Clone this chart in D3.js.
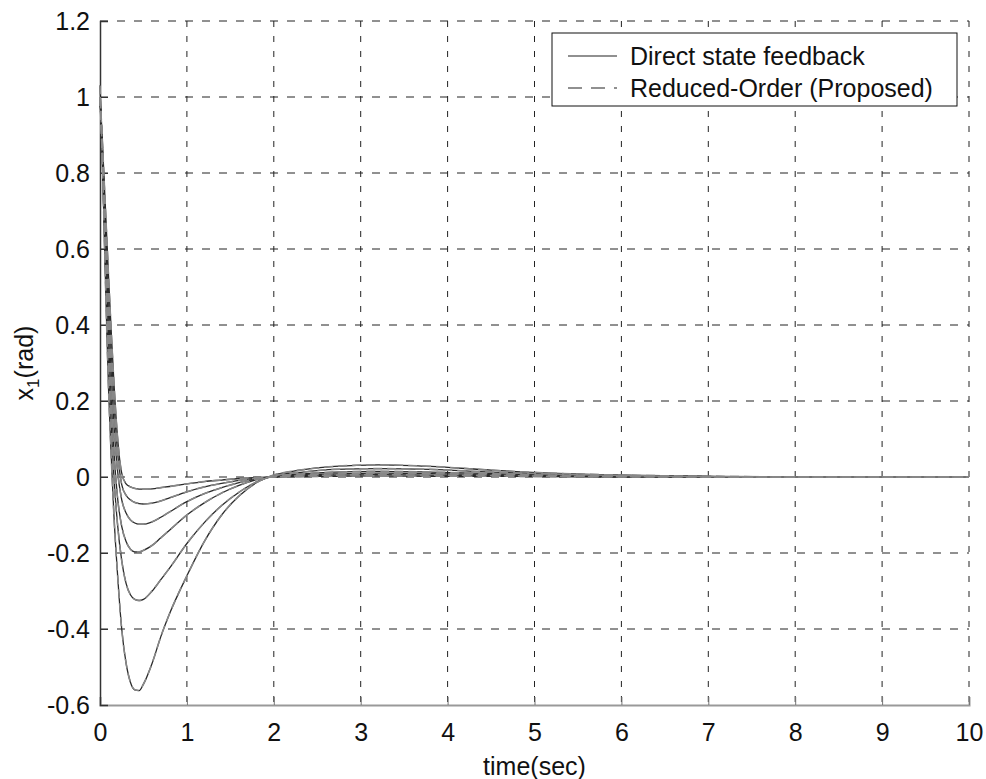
<!DOCTYPE html>
<html>
<head>
<meta charset="utf-8">
<script src="https://cdn.jsdelivr.net/npm/d3@7"></script>
<style>
  body { margin: 0; background: #fff; }
  svg text { font-family: "Liberation Sans", Arial, sans-serif; fill: #111; }
</style>
</head>
<body>
<div id="chart"></div>
<script>
// sample times (sec)
const times = [0, 0.02, 0.04, 0.06, 0.08, 0.1, 0.13, 0.16, 0.2, 0.25, 0.3, 0.35, 0.4, 0.45, 0.5,
  0.6, 0.7, 0.8, 1.0, 1.2, 1.4, 1.6, 1.8, 2.0, 2.3, 2.7, 3.2, 3.8, 4.5, 5.2, 6, 7, 8, 10];

// x1 responses, one per case
const caseA = [1.0, 0.92, 0.82, 0.72, 0.62, 0.52, 0.38, 0.25, 0.11, 0.01, -0.018, -0.026, -0.03, -0.032, -0.032,
  -0.031, -0.028, -0.025, -0.018, -0.012, -0.008, -0.004, -0.001, 0.0, 0.001, 0.002, 0.003, 0.002, 0.002, 0.001, 0, 0, 0, 0];
const caseB = [1.0, 0.91, 0.80, 0.69, 0.58, 0.47, 0.33, 0.2, 0.07, -0.02, -0.048, -0.06, -0.067, -0.07, -0.071,
  -0.069, -0.063, -0.055, -0.039, -0.026, -0.017, -0.009, -0.003, 0.0, 0.003, 0.005, 0.006, 0.005, 0.004, 0.002, 0.001, 0, 0, 0];
const caseC = [1.0, 0.90, 0.78, 0.66, 0.53, 0.42, 0.27, 0.14, 0.02, -0.06, -0.095, -0.113, -0.121, -0.124, -0.124,
  -0.118, -0.106, -0.092, -0.065, -0.044, -0.028, -0.015, -0.005, 0.001, 0.005, 0.008, 0.01, 0.009, 0.006, 0.004, 0.002, 0.001, 0, 0];
const caseD = [1.0, 0.89, 0.76, 0.62, 0.48, 0.36, 0.2, 0.07, -0.05, -0.13, -0.17, -0.19, -0.197, -0.197, -0.193,
  -0.18, -0.16, -0.14, -0.10, -0.068, -0.042, -0.022, -0.007, 0.002, 0.008, 0.013, 0.015, 0.013, 0.009, 0.005, 0.003, 0.001, 0, 0];
const caseE = [1.0, 0.88, 0.73, 0.57, 0.42, 0.29, 0.13, 0.0, -0.12, -0.22, -0.28, -0.31, -0.322, -0.325, -0.322,
  -0.30, -0.27, -0.24, -0.175, -0.12, -0.075, -0.04, -0.013, 0.003, 0.012, 0.02, 0.022, 0.02, 0.013, 0.008, 0.004, 0.001, 0, 0];
const caseF = [1.03, 0.90, 0.72, 0.54, 0.37, 0.22, 0.05, -0.10, -0.25, -0.40, -0.49, -0.54, -0.56, -0.562, -0.545,
  -0.49, -0.42, -0.36, -0.26, -0.17, -0.10, -0.05, -0.015, 0.005, 0.018, 0.028, 0.032, 0.028, 0.018, 0.01, 0.005, 0.002, 0, 0];

const directCases = [caseA, caseB, caseC, caseD, caseE, caseF];
const reducedCases = [caseA, caseB, caseC, caseD, caseE, caseF];

const xTicks = [0, 1, 2, 3, 4, 5, 6, 7, 8, 9, 10];
const yTicks = [-0.6, -0.4, -0.2, 0, 0.2, 0.4, 0.6, 0.8, 1, 1.2];
const yTickLabels = ["-0.6", "-0.4", "-0.2", "0", "0.2", "0.4", "0.6", "0.8", "1", "1.2"];
const legendLabels = ["Direct state feedback", "Reduced-Order (Proposed)"];

const width = 986, height = 779;
const margin = { top: 21, right: 17, bottom: 74, left: 100 };
const plotW = width - margin.left - margin.right;
const plotH = height - margin.top - margin.bottom;

const svg = d3.select("#chart").append("svg")
  .attr("width", width)
  .attr("height", height);

const g = svg.append("g")
  .attr("transform", `translate(${margin.left},${margin.top})`);

const x = d3.scaleLinear().domain([0, 10]).range([0, plotW]);
const y = d3.scaleLinear().domain([-0.6, 1.2]).range([plotH, 0]);

// grid
g.append("g").selectAll("line")
  .data(yTicks.filter(d => d > -0.6))
  .enter().append("line")
  .attr("x1", 0).attr("x2", plotW)
  .attr("y1", d => y(d)).attr("y2", d => y(d))
  .attr("stroke", "#222")
  .attr("stroke-width", 1)
  .attr("stroke-dasharray", "8,9");

g.append("g").selectAll("line")
  .data(xTicks.filter(d => d > 0))
  .enter().append("line")
  .attr("x1", d => x(d)).attr("x2", d => x(d))
  .attr("y1", 0).attr("y2", plotH)
  .attr("stroke", "#222")
  .attr("stroke-width", 1)
  .attr("stroke-dasharray", "6,9");

// axes (MATLAB style, inward ticks, no box)
const xAxis = g.append("g")
  .attr("transform", `translate(0,${plotH})`)
  .call(d3.axisBottom(x).tickValues(xTicks).tickSize(-8).tickPadding(18).tickFormat(d3.format("d")));
xAxis.select(".domain").attr("stroke", "#999").attr("stroke-width", 2);
xAxis.selectAll(".tick line").attr("stroke", "#777");
xAxis.selectAll("text").attr("font-size", 25).attr("fill", "#111");

const yAxis = g.append("g")
  .call(d3.axisLeft(y).tickValues(yTicks).tickSize(-8).tickPadding(10)
    .tickFormat((d, i) => yTickLabels[i]));
yAxis.select(".domain").attr("stroke", "#333").attr("stroke-width", 1.5);
yAxis.selectAll(".tick line").attr("stroke", "#333");
yAxis.selectAll("text").attr("font-size", 25).attr("fill", "#111");
svg.selectAll(".tick text").attr("font-family", "'Liberation Sans', Arial, sans-serif");

// curves
const line = d3.line()
  .x((d, i) => x(times[i]))
  .y(d => y(d))
  .curve(d3.curveMonotoneX);

g.append("g").selectAll("path")
  .data(directCases)
  .enter().append("path")
  .attr("d", line)
  .attr("fill", "none")
  .attr("stroke", "#2a2a2a")
  .attr("stroke-width", 1.3);

g.append("g").selectAll("path")
  .data(reducedCases)
  .enter().append("path")
  .attr("d", line)
  .attr("fill", "none")
  .attr("stroke", "#888")
  .attr("stroke-width", 1.6)
  .attr("stroke-dasharray", "9,5");

// axis labels
svg.append("text")
  .attr("x", margin.left + plotW / 2)
  .attr("y", 775)
  .attr("text-anchor", "middle")
  .attr("font-size", 25)
  .text("time(sec)");

const yl = svg.append("text")
  .attr("transform", `translate(33,${margin.top + plotH / 2}) rotate(-90)`)
  .attr("text-anchor", "middle")
  .attr("font-size", 25);
yl.append("tspan").text("x");
yl.append("tspan").attr("font-size", 17).attr("dy", 6).text("1");
yl.append("tspan").attr("dy", -6).text("(rad)");

// legend
const legend = svg.append("g").attr("transform", "translate(552,33)");
legend.append("rect")
  .attr("width", 405).attr("height", 73)
  .attr("fill", "#fff")
  .attr("stroke", "#111")
  .attr("stroke-width", 1);

const rows = legend.selectAll("g.row")
  .data(legendLabels)
  .enter().append("g")
  .attr("class", "row")
  .attr("transform", (d, i) => `translate(0,${23 + i * 32})`);

rows.append("line")
  .attr("x1", 16).attr("x2", 65)
  .attr("y1", 0).attr("y2", 0)
  .attr("stroke", "#222")
  .attr("stroke-width", 1.2)
  .attr("stroke-dasharray", (d, i) => i === 0 ? null : "14,9");

rows.append("text")
  .attr("x", 78)
  .attr("y", 9)
  .attr("font-size", 25)
  .text(d => d);
</script>
</body>
</html>
